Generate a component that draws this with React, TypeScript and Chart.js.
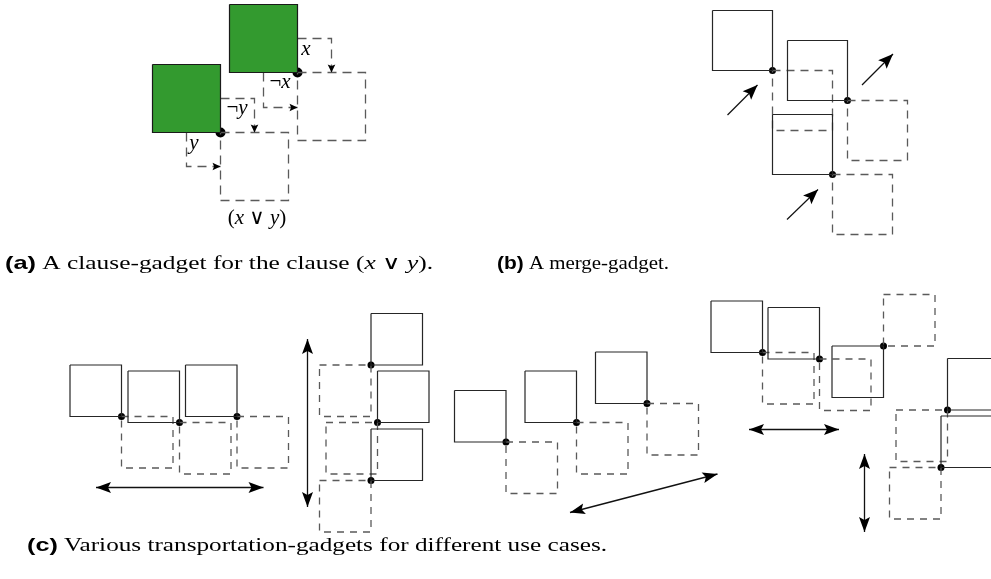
import React, { useEffect, useRef } from 'react';
import { Chart, registerables } from 'chart.js';
Chart.register(...registerables);

const W = 991;
const H = 579;

type P = [number, number];

// ---------- (a) clause gadget ----------
const clauseSize = 68;
const clauseLiterals: P[] = [[229.5, 4.5], [152.5, 64.5]];
const clauseOutputs: P[] = [[297.5, 72.5], [220.5, 132.5]];
const clauseDots: P[] = [[297.5, 72.5], [220.5, 132.5]];
const clauseWires: P[][] = [
  [[297.5, 38.5], [331.5, 38.5], [331.5, 72.5]],
  [[263.5, 72.5], [263.5, 107.5], [297.5, 107.5]],
  [[220.5, 98.5], [254.5, 98.5], [254.5, 132.5]],
  [[186.5, 132.5], [186.5, 166.5], [220.5, 166.5]],
];
// label parts: [text, italic?]
const clauseLabels: { at: P; parts: [string, boolean][] }[] = [
  { at: [306, 49], parts: [['x', true]] },
  { at: [280, 82], parts: [['¬', false], ['x', true]] },
  { at: [237, 108], parts: [['¬', false], ['y', true]] },
  { at: [194, 143], parts: [['y', true]] },
  { at: [257, 218], parts: [['(', false], ['x', true], [' ∨ ', false], ['y', true], [')', false]] },
];

// ---------- (b) merge gadget ----------
const mergeSize = 60;
const mergeSolid: P[] = [[712.5, 10.5], [787.5, 40.5], [772.5, 114.5]];
const mergeDashed: P[] = [[772.5, 70.5], [847.5, 100.5], [832.5, 174.5]];
const mergeDots: P[] = [[772.5, 70.5], [847.5, 100.5], [832.5, 174.5]];
const mergeArrows: P[][] = [
  [[727.5, 115], [757.5, 85]],
  [[862, 85], [893, 54]],
  [[787, 219.5], [818, 189.5]],
];

// ---------- (c) transportation gadgets ----------
const transSize = 51.5;
const transSolid: P[] = [
  [70, 365], [128, 371], [185.5, 365],
  [371, 313.5], [377.5, 371], [371, 429],
  [454.5, 390.5], [525, 371], [595.5, 352],
  [711, 301], [768, 307.5], [832, 346],
  [947.5, 358.5], [941, 416],
];
const transDashed: P[] = [
  [121.5, 416.5], [179.5, 422.5], [237, 416.5],
  [319.5, 365], [326, 422.5], [319.5, 480.5],
  [506, 442], [576.5, 422.5], [647, 403.5],
  [762.5, 352.5], [819.5, 359], [883.5, 294.5],
  [896, 410], [889.5, 467.5],
];
const transDots: P[] = [
  [121.5, 416.5], [179.5, 422.5], [237, 416.5],
  [371, 365], [377.5, 422.5], [371, 480.5],
  [506, 442], [576.5, 422.5], [647, 403.5],
  [762.5, 352.5], [819.5, 359], [883.5, 346],
  [947.5, 410], [941, 467.5],
];
const transArrows: P[][] = [
  [[96, 487.5], [263.5, 487.5]],
  [[307.5, 339], [307.5, 507]],
  [[570, 512.5], [717.5, 474]],
  [[749, 429.5], [839, 429.5]],
  [[864.5, 454], [864.5, 532]],
];

// ---------- captions ----------
const captions: { at: P; end: number; tag: string; parts: [string, boolean][] }[] = [
  { at: [5, 269], end: 433, tag: '(a)', parts: [[' A clause-gadget for the clause (', false], ['x', true], [' ∨ ', false], ['y', true], [').', false]] },
  { at: [497, 269], end: 669, tag: '(b)', parts: [[' A merge-gadget.', false]] },
  { at: [27, 551], end: 607, tag: '(c)', parts: [[' Various transportation-gadgets for different use cases.', false]] },
];

const SOLID = '#262626';
const DASHED = '#5a5a5a';
const GREEN = '#339a2f';

const toXY = (p: P) => ({ x: p[0], y: p[1] });
const square = (p: P, s: number) => [
  { x: p[0], y: p[1] }, { x: p[0] + s, y: p[1] }, { x: p[0] + s, y: p[1] + s }, { x: p[0], y: p[1] + s }, { x: p[0], y: p[1] },
];

function buildDatasets() {
  const ds: any[] = [];
  const line = (data: any[], color: string, dash: number[], width = 1.2, fill: any = false, bg = 'transparent') => ({
    data, showLine: true, borderColor: color, borderWidth: width, borderDash: dash,
    pointRadius: 0, pointHoverRadius: 0, fill, backgroundColor: bg, tension: 0,
    borderJoinStyle: 'miter', borderCapStyle: 'butt', clip: false,
  });
  clauseLiterals.forEach(p => ds.push(line(square(p, clauseSize), '#1a1a1a', [], 1.2, 'shape', GREEN)));
  clauseOutputs.forEach(p => ds.push(line(square(p, clauseSize), DASHED, [9, 6], 1.3)));
  clauseWires.forEach(w => ds.push(line(w.map(toXY), DASHED, [9, 6], 1.3)));
  mergeSolid.forEach(p => ds.push(line(square(p, mergeSize), SOLID, [], 1.2)));
  mergeDashed.forEach(p => ds.push(line(square(p, mergeSize), DASHED, [8, 6], 1.3)));
  mergeArrows.forEach(a => ds.push(line(a.map(toXY), '#111', [], 1.2)));
  transSolid.forEach(p => ds.push(line(square(p, transSize), SOLID, [], 1.2)));
  transDashed.forEach(p => ds.push(line(square(p, transSize), DASHED, [7, 6], 1.3)));
  transArrows.forEach(a => ds.push(line(a.map(toXY), '#111', [], 1.3)));
  const dots = (pts: P[], r: number) => ({
    data: pts.map(toXY), showLine: false, pointRadius: r, pointHoverRadius: r,
    pointBackgroundColor: '#000', pointBorderColor: '#000', pointBorderWidth: 0, clip: false,
  });
  ds.push(dots(clauseDots, 5));
  ds.push(dots(mergeDots, 3.5));
  ds.push(dots(transDots, 3.5));
  return ds;
}

function head(ctx: CanvasRenderingContext2D, tip: { x: number; y: number }, from: { x: number; y: number }, len: number, hw: number) {
  const dx = tip.x - from.x, dy = tip.y - from.y;
  const d = Math.hypot(dx, dy) || 1;
  const ux = dx / d, uy = dy / d;
  const bx = tip.x - ux * len, by = tip.y - uy * len;
  ctx.beginPath();
  ctx.moveTo(tip.x, tip.y);
  ctx.lineTo(bx - uy * hw, by + ux * hw);
  ctx.lineTo(tip.x - ux * len * 0.8, tip.y - uy * len * 0.8);
  ctx.lineTo(bx + uy * hw, by - ux * hw);
  ctx.closePath();
  ctx.fill();
}

const SERIF = '"Liberation Serif", "DejaVu Serif", serif';
const SANS = '"Liberation Sans", "DejaVu Sans", sans-serif';

const overlay = {
  id: 'overlay',
  beforeDraw(chart: any) {
    const c = chart.ctx;
    c.save();
    c.fillStyle = '#fff';
    c.fillRect(0, 0, chart.width, chart.height);
    c.restore();
  },
  afterDraw(chart: any) {
    const c: CanvasRenderingContext2D = chart.ctx;
    const xs = chart.scales.x, ys = chart.scales.y;
    const px = (p: P) => ({ x: xs.getPixelForValue(p[0]), y: ys.getPixelForValue(p[1]) });
    c.save();
    c.fillStyle = '#000';
    clauseWires.forEach(w => {
      const a = px(w[w.length - 2]), b = px(w[w.length - 1]);
      head(c, b, a, 8, 3.8);
    });
    mergeArrows.forEach(a => head(c, px(a[1]), px(a[0]), 15, 6));
    transArrows.forEach(a => {
      head(c, px(a[1]), px(a[0]), 15, 5.5);
      head(c, px(a[0]), px(a[1]), 15, 5.5);
    });
    // labels
    const fs = 21;
    const fontOf = (it: boolean) => (it ? `italic ${fs}px ${SERIF}` : `${fs}px ${SERIF}`);
    c.textBaseline = 'middle';
    c.textAlign = 'left';
    clauseLabels.forEach(l => {
      let total = 0;
      l.parts.forEach(([t, it]) => { c.font = fontOf(it); total += c.measureText(t).width; });
      const p = px(l.at);
      let x = p.x - total / 2;
      l.parts.forEach(([t, it]) => { c.font = fontOf(it); c.fillText(t, x, p.y); x += c.measureText(t).width; });
    });
    // captions
    c.textBaseline = 'alphabetic';
    const cs = 19;
    captions.forEach(cap => {
      const start = px(cap.at);
      const end = xs.getPixelForValue(cap.end);
      const tagFont = `bold ${cs}px ${SANS}`;
      const f = (it: boolean) => (it ? `italic ${cs}px ${SERIF}` : `${cs}px ${SERIF}`);
      c.font = tagFont;
      let total = c.measureText(cap.tag).width;
      cap.parts.forEach(([t, it]) => { c.font = f(it); total += c.measureText(t).width; });
      const sx = (end - start.x) / total;
      c.save();
      c.translate(start.x, start.y);
      c.scale(sx, 1);
      let x = 0;
      c.font = tagFont;
      c.fillText(cap.tag, x, 0);
      x += c.measureText(cap.tag).width;
      cap.parts.forEach(([t, it]) => { c.font = f(it); c.fillText(t, x, 0); x += c.measureText(t).width; });
      c.restore();
    });
    c.restore();
  },
};

export default function App() {
  const ref = useRef<HTMLCanvasElement | null>(null);
  useEffect(() => {
    if (!ref.current) return;
    const chart = new Chart(ref.current, {
      type: 'scatter',
      data: { datasets: buildDatasets() },
      options: {
        animation: false,
        responsive: false,
        events: [],
        layout: { padding: 0, autoPadding: false },
        scales: {
          x: { type: 'linear', min: 0, max: W, display: false },
          y: { type: 'linear', min: 0, max: H, reverse: true, display: false },
        },
        plugins: { legend: { display: false }, tooltip: { enabled: false }, title: { display: false } },
      } as any,
      plugins: [overlay],
    });
    return () => chart.destroy();
  }, []);
  return (
    <div style={{ position: 'fixed', left: 0, top: 0, width: W, height: H, background: '#fff' }}>
      <canvas ref={ref} width={W} height={H} style={{ display: 'block' }} />
    </div>
  );
}
